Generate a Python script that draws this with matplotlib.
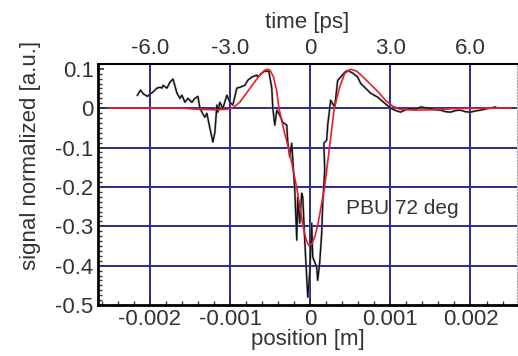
import matplotlib
matplotlib.use("Agg")
import matplotlib.pyplot as plt
from matplotlib.ticker import MultipleLocator, FixedLocator, FixedFormatter
import numpy as np

plt.rcParams['font.family'] = ['Liberation Sans', 'DejaVu Sans']
plt.rcParams['axes.unicode_minus'] = False

# measured signal (position in mm -> converted to m below)
pos_data = [-2.157, -2.118, -2.081, -2.031, -2.000, -1.963, -1.913, -1.875, -1.850, -1.838,
            -1.788, -1.751, -1.713, -1.663, -1.626, -1.601, -1.564, -1.526, -1.477, -1.439,
            -1.402, -1.377, -1.352, -1.315, -1.290, -1.252, -1.215, -1.190, -1.165, -1.153,
            -1.128, -1.090, -1.040, -1.003, -0.966, -0.916, -0.879, -0.816, -0.779, -0.729,
            -0.667, -0.654, -0.604, -0.567, -0.517, -0.480, -0.467, -0.442, -0.417, -0.380,
            -0.343, -0.293, -0.280, -0.255, -0.231, -0.193, -0.168, -0.156, -0.131, -0.106,
            -0.093, -0.069, -0.044, -0.031, -0.006, 0.019, 0.031, 0.081, 0.093, 0.118,
            0.143, 0.156, 0.181, 0.170, 0.206, 0.218, 0.255, 0.305, 0.343, 0.380,
            0.430, 0.467, 0.530, 0.592, 0.629, 0.679, 0.754, 0.841, 0.928, 1.003,
            1.065, 1.128, 1.190, 1.252, 1.315, 1.377, 1.440, 1.502, 1.564, 1.626,
            1.690, 1.751, 1.813, 1.875, 1.938, 2.000, 2.060, 2.125, 2.190, 2.249, 2.312]
sig_data = [0.033, 0.046, 0.036, 0.030, 0.036, 0.041, 0.051, 0.053, 0.051, 0.058,
            0.051, 0.066, 0.074, 0.038, 0.025, 0.033, 0.015, 0.025, 0.015, 0.025,
            0.030, 0.000, -0.010, -0.023, -0.013, -0.051, -0.086, -0.061, 0.008, -0.010,
            0.015, 0.000, 0.033, 0.015, 0.008, 0.051, 0.053, 0.058, 0.071, 0.079,
            0.084, 0.079, 0.089, 0.094, 0.094, 0.051, 0.000, -0.043, -0.005, -0.018,
            -0.036, -0.043, -0.086, -0.124, -0.089, -0.208, -0.335, -0.226, -0.292, -0.216,
            -0.226, -0.335, -0.429, -0.480, -0.419, -0.292, -0.378, -0.404, -0.437, -0.393,
            -0.317, -0.241, -0.157, -0.089, -0.081, -0.043, 0.020, 0.003, 0.071, 0.079,
            0.091, 0.096, 0.089, 0.079, 0.063, 0.053, 0.038, 0.028, 0.013, 0.000,
            -0.006, -0.010, -0.004, 0.000, -0.003, 0.003, 0.001, 0.000, -0.004, -0.005,
            -0.009, -0.010, -0.006, -0.005, -0.009, -0.010, -0.007, -0.005, -0.002, 0.000, 0.003]

# fit curve
pos_fit = [-2.52, -1.60, -1.40, -1.20, -1.05, -0.97, -0.88, -0.75, -0.63, -0.57,
           -0.53, -0.50, -0.46, -0.42, -0.39, -0.33, -0.26, -0.17, -0.09, -0.05,
           -0.02, 0.02, 0.06, 0.10, 0.18, 0.24, 0.30, 0.37, 0.43, 0.50,
           0.58, 0.65, 0.74, 0.84, 0.94, 1.03, 1.12, 1.30, 1.55, 1.80, 2.11, 2.50]
sig_fit = [0, 0, -0.003, -0.004, -0.003, 0.0, 0.015, 0.051, 0.084, 0.096,
           0.099, 0.096, 0.08, 0.045, 0.0, -0.055, -0.11, -0.20, -0.30, -0.335,
           -0.348, -0.345, -0.325, -0.29, -0.20, -0.10, 0.0, 0.055, 0.088, 0.099,
           0.094, 0.081, 0.063, 0.043, 0.02, 0.005, -0.003, -0.005, -0.004, -0.001, 0, 0]

x_ticks = [-0.002, -0.001, 0, 0.001, 0.002]
x_labels = ['-0.002', '-0.001', '0', '0.001', '0.002']
t_ticks = [-6, -3, 0, 3, 6]
t_labels = ['-6.0', '-3.0', '0', '3.0', '6.0']
y_ticks = [0.1, 0, -0.1, -0.2, -0.3, -0.4, -0.5]
y_labels = ['0.1', '0', '-0.1', '-0.2', '-0.3', '-0.4', '-0.5']

fig = plt.figure(figsize=(5.18, 3.56), dpi=100)
ax = fig.add_axes([0.189, 0.143, 0.809, 0.677])

grid_col = '#2a2a96'
for xv in x_ticks:
    ax.axvline(xv, color=grid_col, lw=1.4, zorder=1)
for yv in y_ticks[1:-1]:
    ax.axhline(yv, color=grid_col, lw=1.4, zorder=1)

xd = np.array(pos_data) * 1e-3
xf = np.array(pos_fit) * 1e-3
ax.plot(xd, sig_data, color='#999999', lw=1.8, alpha=0.6, zorder=2)
ax.plot(xd, sig_data, color='#111111', lw=1.0, zorder=3)
ax.plot(xf, sig_fit, color='#e8202a', lw=1.2, zorder=4)

ax.set_xlim(-0.00265, 0.00258)
ax.set_ylim(-0.5, 0.112)

ax.xaxis.set_major_locator(FixedLocator(x_ticks))
ax.xaxis.set_major_formatter(FixedFormatter(x_labels))
ax.xaxis.set_minor_locator(MultipleLocator(0.0002))
ax.yaxis.set_major_locator(FixedLocator(y_ticks))
ax.yaxis.set_major_formatter(FixedFormatter(y_labels))
ax.yaxis.set_minor_locator(MultipleLocator(0.0125))
ax.tick_params(which='both', direction='in', top=False, right=False, colors='#333333')
ax.tick_params(which='major', length=4, width=1.2, labelsize=16, pad=3)
ax.tick_params(which='minor', length=3, width=1.0)

for s in ['left', 'bottom']:
    ax.spines[s].set_linewidth(2)
ax.spines['top'].set_linewidth(1.5)
ax.spines['right'].set_linestyle(':')
ax.spines['right'].set_color('#aaaaaa')

ax.set_xlabel('position [m]', fontsize=16, color='#333333', labelpad=-1)
ax.set_ylabel('signal normalized [a.u.]', fontsize=16, color='#333333')
ax.yaxis.set_label_coords(-0.135, 0.62)

sec = ax.secondary_xaxis('top', functions=(lambda x: x * 3000, lambda t: t / 3000))
sec.xaxis.set_major_locator(FixedLocator(t_ticks))
sec.xaxis.set_major_formatter(FixedFormatter(t_labels))
sec.tick_params(direction='in', length=0, labelsize=16, colors='#333333', pad=4)
sec.spines['top'].set_visible(False)
sec.set_xlabel('time [ps]', fontsize=16, color='#333333', labelpad=7)

ax.text(0.00045, -0.255, 'PBU 72 deg', fontsize=15, color='#333333', va='center')

fig.savefig('out.png', dpi=100)
